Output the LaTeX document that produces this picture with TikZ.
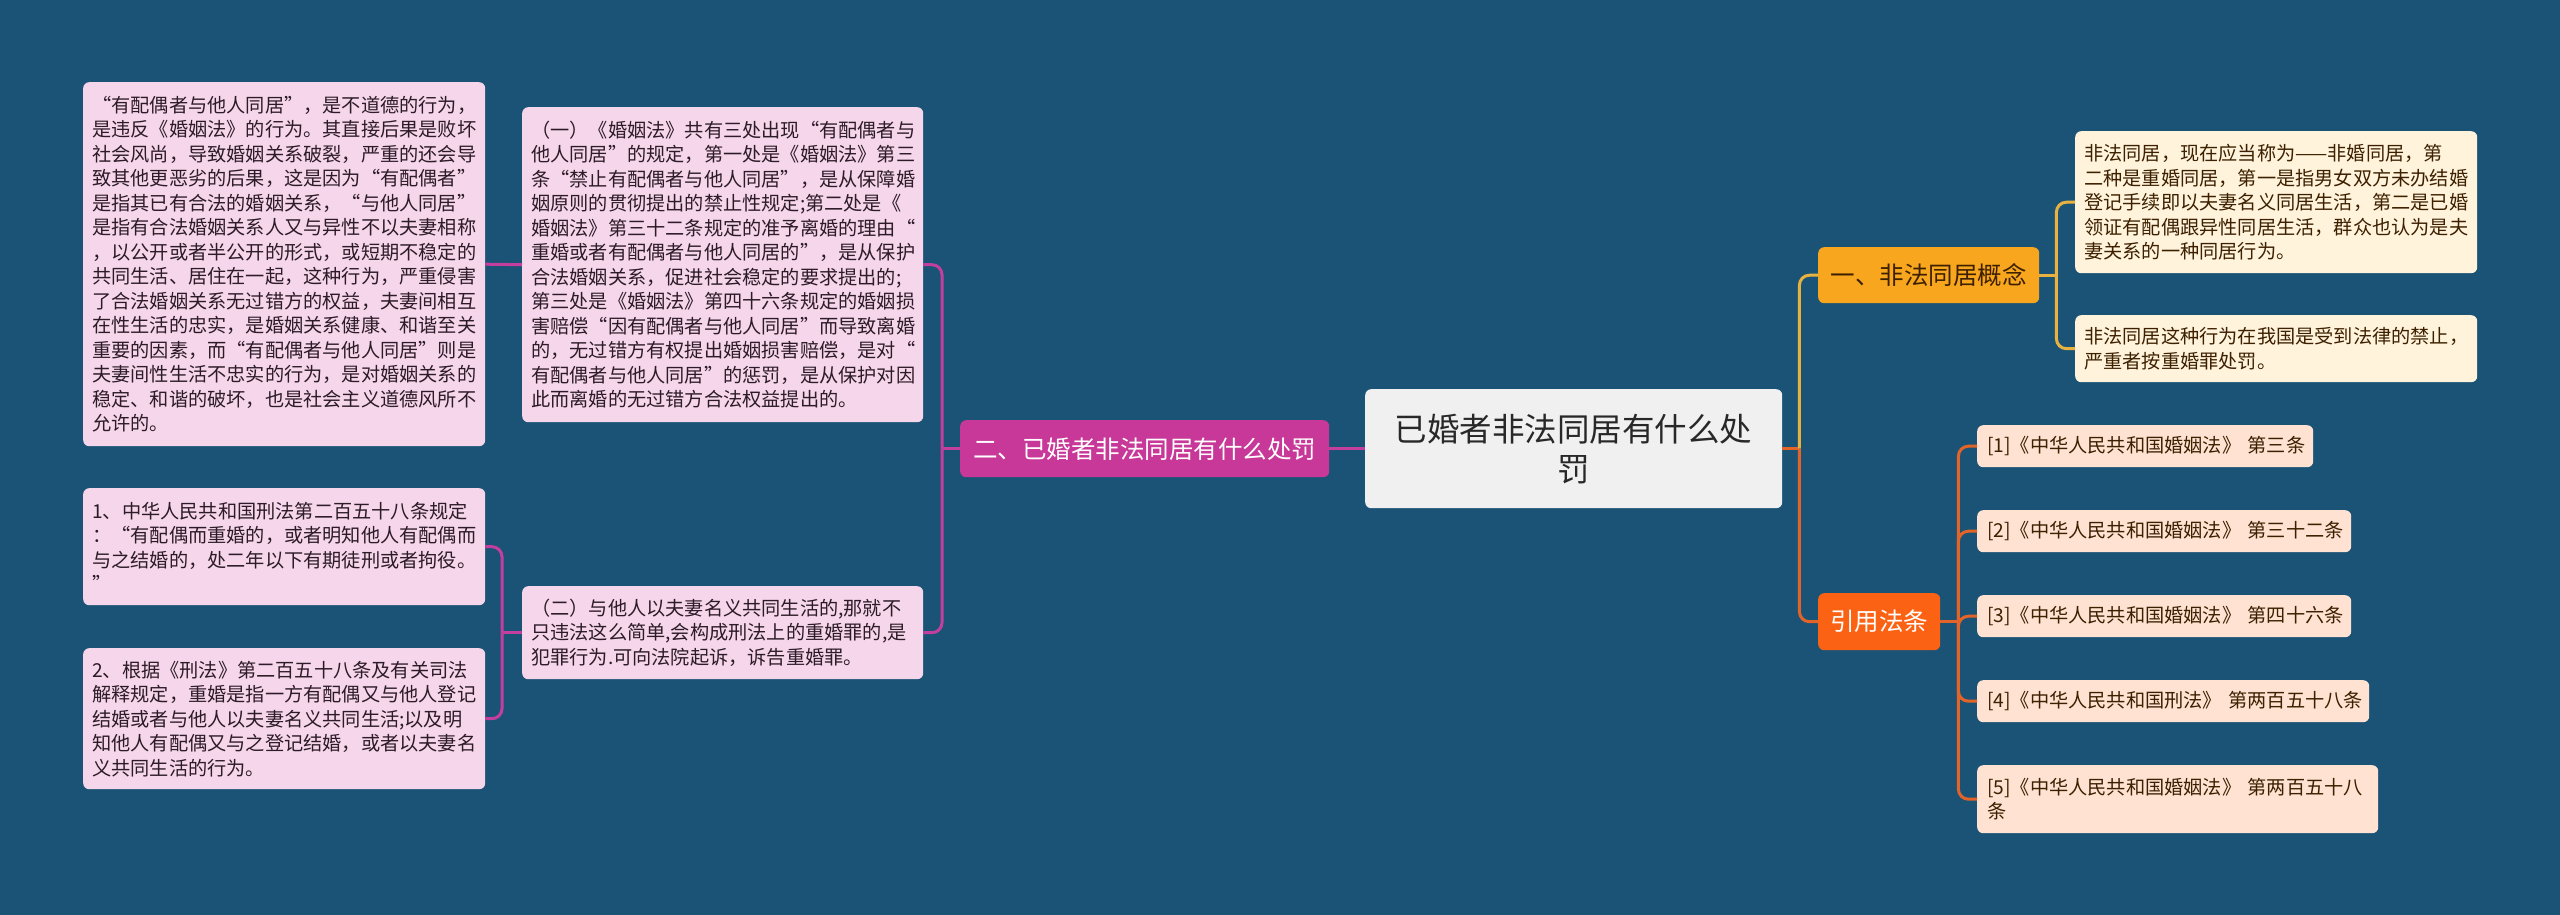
\documentclass[tikz,border=0pt]{standalone}
\usepackage{fontspec}
\newfontfamily\cjkf{Noto Sans CJK SC}
\usetikzlibrary{calc}
\definecolor{bgc}{RGB}{26,83,118}
\definecolor{pinkfill}{RGB}{245,214,235}
\definecolor{pinktext}{RGB}{45,27,39}
\definecolor{magfill}{RGB}{200,56,152}
\definecolor{magline}{RGB}{196,62,158}
\definecolor{ctrfill}{RGB}{240,240,240}
\definecolor{ctrtext}{RGB}{40,40,40}
\definecolor{gold}{RGB}{247,166,30}
\definecolor{goldline}{RGB}{232,178,64}
\definecolor{creamfill}{RGB}{255,243,220}
\definecolor{browntext}{RGB}{61,32,0}
\definecolor{redorange}{RGB}{252,98,20}
\definecolor{orline}{RGB}{226,100,40}
\definecolor{peachfill}{RGB}{255,226,210}
\newcommand\fsA{\fontsize{19.2pt}{24.5pt}\selectfont}
\newcommand\fsB{\fontsize{24.5pt}{30pt}\selectfont}
\newcommand\fsC{\fontsize{32.5pt}{40pt}\selectfont}
\tikzset{
  basebox/.style={anchor=north west, rounded corners=6pt, inner xsep=9pt, inner ysep=0pt, align=left, font=\cjkf\fsA},
  pinkbox/.style={basebox, fill=pinkfill, text=pinktext},
  creambox/.style={basebox, fill=creamfill, text=browntext},
  peachbox/.style={basebox, fill=peachfill, text=browntext, inner xsep=10pt},
  topicbox/.style={anchor=north west, rounded corners=6pt, inner sep=0pt, align=center, font=\cjkf\fsB},
  magc/.style={draw=magline, line width=3pt},
  goldc/.style={draw=goldline, line width=3pt},
  orc/.style={draw=orline, line width=3pt},
  roundbend/.style={rounded corners=10pt}
}
\begin{document}
\begin{tikzpicture}[x=1pt,y=-1pt]
\fill[bgc] (0,0) rectangle (2560,915);

% central
\node[topicbox, fill=ctrfill, text=ctrtext, font=\cjkf\fsC, minimum width=417pt, minimum height=119pt] (ctr) at (1365,389) {已婚者非法同居有什么处\\罚};

% left main branch
\node[topicbox, fill=magfill, text=white, minimum width=369pt, minimum height=57pt] (mag) at (960,420) {二、已婚者非法同居有什么处罚};

\node[pinkbox, text width=383pt, minimum height=315pt] (yi) at (522,107) {（一）《婚姻法》共有三处出现“有配偶者与\\他人同居”的规定，第一处是《婚姻法》第三\\条“禁止有配偶者与他人同居”，是从保障婚\\姻原则的贯彻提出的禁止性规定;第二处是《\\婚姻法》第三十二条规定的准予离婚的理由“\\重婚或者有配偶者与他人同居的”，是从保护\\合法婚姻关系，促进社会稳定的要求提出的;\\第三处是《婚姻法》第四十六条规定的婚姻损\\害赔偿“因有配偶者与他人同居”而导致离婚\\的，无过错方有权提出婚姻损害赔偿，是对“\\有配偶者与他人同居”的惩罚，是从保护对因\\此而离婚的无过错方合法权益提出的。};

\node[pinkbox, text width=384pt, minimum height=364pt] (tl) at (83,82) {“有配偶者与他人同居”，是不道德的行为，\\是违反《婚姻法》的行为。其直接后果是败坏\\社会风尚，导致婚姻关系破裂，严重的还会导\\致其他更恶劣的后果，这是因为“有配偶者”\\是指其已有合法的婚姻关系，“与他人同居”\\是指有合法婚姻关系人又与异性不以夫妻相称\\，以公开或者半公开的形式，或短期不稳定的\\共同生活、居住在一起，这种行为，严重侵害\\了合法婚姻关系无过错方的权益，夫妻间相互\\在性生活的忠实，是婚姻关系健康、和谐至关\\重要的因素，而“有配偶者与他人同居”则是\\夫妻间性生活不忠实的行为，是对婚姻关系的\\稳定、和谐的破坏，也是社会主义道德风所不\\允许的。};

\node[pinkbox, text width=383pt, minimum height=93pt] (er) at (522,586) {（二）与他人以夫妻名义共同生活的,那就不\\只违法这么简单,会构成刑法上的重婚罪的,是\\犯罪行为.可向法院起诉，诉告重婚罪。};

\node[pinkbox, text width=384pt, minimum height=117pt] (p1) at (83,488) {1、中华人民共和国刑法第二百五十八条规定\\：“有配偶而重婚的，或者明知他人有配偶而\\与之结婚的，处二年以下有期徒刑或者拘役。\\”};

\node[pinkbox, text width=384pt, minimum height=141pt] (p2) at (83,648) {2、根据《刑法》第二百五十八条及有关司法\\解释规定，重婚是指一方有配偶又与他人登记\\结婚或者与他人以夫妻名义共同生活;以及明\\知他人有配偶又与之登记结婚，或者以夫妻名\\义共同生活的行为。};

% right branches
\node[topicbox, fill=gold, text=browntext, minimum width=221pt, minimum height=56pt] (gn) at (1818,247) {一、非法同居概念};

\node[creambox, text width=384pt, minimum height=142pt] (r1) at (2075,131) {非法同居，现在应当称为——非婚同居，第\\二种是重婚同居，第一是指男女双方未办结婚\\登记手续即以夫妻名义同居生活，第二是已婚\\领证有配偶跟异性同居生活，群众也认为是夫\\妻关系的一种同居行为。};

\node[creambox, text width=384pt, minimum height=67pt] (r2) at (2075,315) {非法同居这种行为在我国是受到法律的禁止，\\严重者按重婚罪处罚。};

\node[topicbox, fill=redorange, text=white, minimum width=122pt, minimum height=57pt] (yy) at (1818,593) {引用法条};

\node[peachbox, text width=316pt, minimum height=42pt] (c1) at (1977,425) {[1]《中华人民共和国婚姻法》~第三条};
\node[peachbox, text width=354pt, minimum height=42pt] (c2) at (1977,510) {[2]《中华人民共和国婚姻法》~第三十二条};
\node[peachbox, text width=354pt, minimum height=42pt] (c3) at (1977,595) {[3]《中华人民共和国婚姻法》~第四十六条};
\node[peachbox, text width=372pt, minimum height=42pt] (c4) at (1977,680) {[4]《中华人民共和国刑法》~第两百五十八条};
\node[peachbox, text width=381pt, minimum height=68pt] (c5) at (1977,765) {[5]《中华人民共和国婚姻法》~第两百五十八\\条};

% connectors: centre to left branch
\draw[magc] (ctr.west) -- (mag.east);
\coordinate (jm) at ($(mag.west)+(-18,0)$);
\draw[magc] (mag.west) -- (jm);
\draw[magc, roundbend] (jm) |- (yi.east);
\draw[magc, roundbend] (jm) |- (er.east);
\draw[magc] (yi.west) -- (tl.east);
\coordinate (je) at ($(er.west)+(-20,0)$);
\draw[magc] (er.west) -- (je);
\draw[magc, roundbend] (je) |- (p1.east);
\draw[magc, roundbend] (je) |- (p2.east);

% connectors: centre to right branches
\coordinate (jr) at ($(ctr.east)+(17,0)$);
\draw[orc] (ctr.east) -- (jr);
\draw[goldc, roundbend] (jr) |- (gn.west);
\draw[orc, roundbend] (jr) |- (yy.west);
\coordinate (jg) at ($(gn.east)+(17,0)$);
\draw[goldc] (gn.east) -- (jg);
\draw[goldc, roundbend] (jg) |- (r1.west);
\draw[goldc, roundbend] (jg) |- (r2.west);
\coordinate (jy) at ($(yy.east)+(18,0)$);
\draw[orc] (yy.east) -- (jy);
\draw[orc, roundbend] (jy) |- (c1.west);
\draw[orc, roundbend] (jy) |- (c2.west);
\draw[orc, roundbend] (jy) |- (c3.west);
\draw[orc, roundbend] (jy) |- (c4.west);
\draw[orc, roundbend] (jy) |- (c5.west);
\end{tikzpicture}
\end{document}
